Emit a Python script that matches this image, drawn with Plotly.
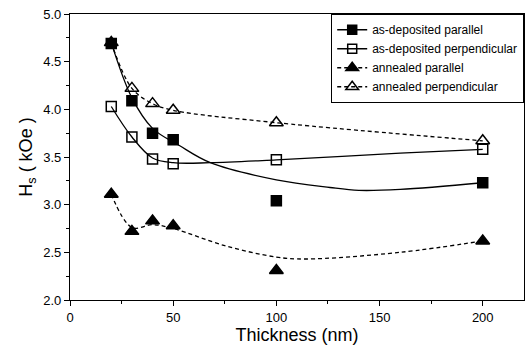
import plotly.graph_objects as go

thickness = [20, 30, 40, 50, 100, 200]
asdep_par = [4.69, 4.09, 3.75, 3.68, 3.04, 3.23]
asdep_perp = [4.03, 3.71, 3.48, 3.43, 3.47, 3.58]
ann_par = [3.11, 2.72, 2.83, 2.78, 2.31, 2.62]
ann_perp = [4.70, 4.22, 4.06, 3.99, 3.86, 3.67]

# fitted guide curves
fit_x_asdep_par = [20, 30, 40, 53, 68, 100, 126, 140, 160, 200]
fit_y_asdep_par = [4.70, 4.12, 3.80, 3.62, 3.44, 3.26, 3.18, 3.15, 3.16, 3.23]
fit_x_asdep_perp = [20, 30, 40, 50, 68, 100, 160, 200]
fit_y_asdep_perp = [4.03, 3.71, 3.49, 3.44, 3.44, 3.47, 3.54, 3.58]
fit_x_ann_par = [20, 30, 40, 50, 75, 100, 114, 160, 200]
fit_y_ann_par = [3.11, 2.76, 2.79, 2.75, 2.57, 2.45, 2.43, 2.50, 2.62]
fit_x_ann_perp = [20, 30, 40, 50, 100, 200]
fit_y_ann_perp = [4.70, 4.22, 4.06, 3.99, 3.86, 3.67]

names = ["as-deposited parallel", "as-deposited perpendicular",
         "annealed parallel", "annealed perpendicular"]

FONT = "Liberation Sans, Arial, sans-serif"
DASH = "4px,3px"

fig = go.Figure()

series = [
    (asdep_par, fit_x_asdep_par, fit_y_asdep_par, "square", "solid", 10),
    (asdep_perp, fit_x_asdep_perp, fit_y_asdep_perp, "square-open", "solid", 10),
    (ann_par, fit_x_ann_par, fit_y_ann_par, "triangle-up", DASH, 12),
    (ann_perp, fit_x_ann_perp, fit_y_ann_perp, "triangle-up-open", DASH, 12),
]

for (yv, fx, fy, sym, dash, size), name in zip(series, names):
    fig.add_trace(go.Scatter(x=fx, y=fy, mode="lines",
                             line=dict(color="black", width=1.3, dash=dash,
                                       shape="spline", smoothing=1.0),
                             showlegend=False, hoverinfo="skip"))
for (yv, fx, fy, sym, dash, size), name in zip(series, names):
    fig.add_trace(go.Scatter(x=thickness, y=yv, mode="markers",
                             marker=dict(symbol=sym, size=size, color="black",
                                         line=dict(color="black", width=1.5)),
                             showlegend=False))
    fig.add_trace(go.Scatter(x=[None], y=[None], mode="lines+markers", name=name,
                             line=dict(color="black", width=1.5, dash=dash),
                             marker=dict(symbol=sym, size=size - 1, color="black",
                                         line=dict(color="black", width=1.5))))

axis_common = dict(showline=True, linecolor="black", linewidth=1.3, mirror=True,
                   ticks="outside", ticklen=5, tickcolor="black", tickwidth=1.2,
                   showgrid=False, zeroline=False,
                   tickfont=dict(family=FONT, size=13, color="black"))

fig.update_xaxes(range=[0, 220], tick0=0, dtick=50,
                 minor=dict(ticks="outside", ticklen=3, dtick=25, tickcolor="black"),
                 title=dict(text="Thickness (nm)", font=dict(family=FONT, size=18, color="black"),
                            standoff=1),
                 **axis_common)
fig.update_yaxes(range=[2.0, 5.0], tick0=2.0, dtick=0.5, tickformat=".1f",
                 minor=dict(ticks="outside", ticklen=3, dtick=0.25, tickcolor="black"),
                 title=dict(text="H<sub>s</sub> ( kOe )", font=dict(family=FONT, size=18, color="black"),
                            standoff=5),
                 **axis_common)

fig.update_layout(
    width=529, height=346,
    margin=dict(l=70, r=5, t=14, b=46),
    plot_bgcolor="white", paper_bgcolor="white",
    font=dict(family=FONT, color="black"),
    legend=dict(x=1.0, y=1.0, xanchor="right", yanchor="top",
                bgcolor="white", bordercolor="black", borderwidth=1.2,
                font=dict(family=FONT, size=12, color="black"),
                tracegroupgap=0, itemwidth=30),
)

fig.write_html("out.html")
